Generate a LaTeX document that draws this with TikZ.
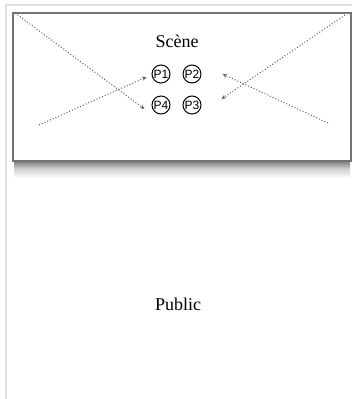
\documentclass[tikz,border=0pt]{standalone}
\usepackage{fontspec}
\setmainfont{Liberation Serif}
\newfontfamily\persofont{Liberation Sans}
\usetikzlibrary{arrows.meta}

\begin{document}
\begin{tikzpicture}[x=1pt,y=-1pt,
  perso/.style={circle,draw,line width=1pt,inner sep=0pt,minimum size=18pt,font=\persofont\fontsize{12}{12}\selectfont},
  regard/.style={dotted,line width=1pt,gray!75!black,-{Stealth[length=4.5pt,width=4pt]}}]
\useasboundingbox (0,0) rectangle (352,399);
\draw [gray!25,line width=2pt] (6,399) -- (6,5) -- (352,5);
\shade [top color=gray!90!black,bottom color=white,middle color=gray!35] (14,160) rectangle (350,178);
\node [draw=gray!90!black,line width=1.5pt,fill=white,inner sep=0pt,
  minimum width=338pt,minimum height=148pt,anchor=north west] (scene) at (12,12) {};
\node [font=\fontsize{18}{18}\selectfont] (titre) at (177,41) {Scène};
\node [perso] (p1) at (161,74) {P1};
\node [perso] (p2) at (192,74) {P2};
\node [perso] (p4) at (161,105) {P4};
\node [perso] (p3) at (192,105) {P3};
\coordinate (hg) at (15,13);
\coordinate (hd) at (345,15);
\coordinate (bg) at (39,125);
\coordinate (bd) at (328,123);
\draw [regard] (hg) -- ([xshift=-7pt,yshift=-4pt]p4.west);
\draw [regard] (bg) -- ([xshift=-5pt,yshift=-3pt]p1.west);
\draw [regard] (hd) -- ([xshift=20pt,yshift=6pt]p3.east);
\draw [regard] (bd) -- ([xshift=21pt]p2.east);
\node [font=\fontsize{18}{18}\selectfont] (public) at (178,304) {Public};
\end{tikzpicture}
\end{document}
